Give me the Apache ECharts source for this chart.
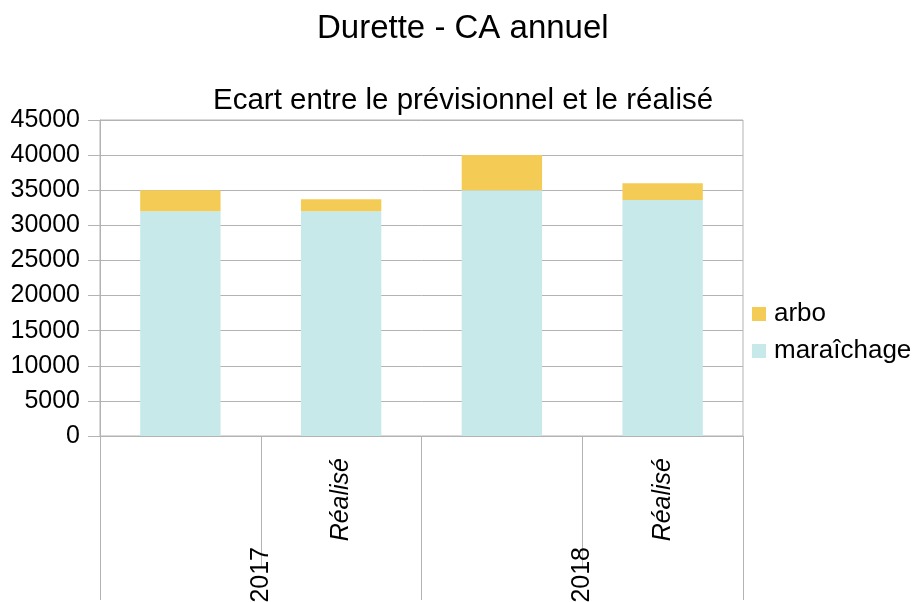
<!DOCTYPE html>
<html>
<head>
<meta charset="utf-8">
<script src="https://cdn.jsdelivr.net/npm/echarts@6/dist/echarts.min.js"></script>
<style>
html,body{margin:0;padding:0;background:#fff;}
#chart{width:912px;height:602px;}
</style>
</head>
<body>
<div id="chart"></div>
<script>
var categories = ['2017 prévisionnel', '2017 réalisé', '2018 prévisionnel', '2018 réalisé'];
var innerLabels = ['', 'Réalisé', '', 'Réalisé'];
var years = ['2017', '2018'];
var maraichage = [32000, 32000, 35000, 33600];
var arbo = [3000, 1700, 5000, 2400];

var FONT = '"Liberation Sans", Arial, sans-serif';
var GRID = '#b3b3b3';

var chart = echarts.init(document.getElementById('chart'), null, {renderer: 'canvas'});
chart.setOption({
  animation: false,
  backgroundColor: '#ffffff',
  textStyle: {fontFamily: FONT},
  title: [
    {text: 'Durette - CA annuel', left: 317, top: 12, padding: 0,
     textStyle: {fontFamily: FONT, fontSize: 33, fontWeight: 'normal', color: '#000'}},
    {text: 'Ecart entre le prévisionnel et le réalisé', left: 213, top: 86, padding: 0,
     textStyle: {fontFamily: FONT, fontSize: 29.5, fontWeight: 'normal', color: '#000'}}
  ],
  legend: {
    orient: 'vertical', left: 747, top: 296,
    data: ['arbo', 'maraîchage'],
    icon: 'rect', itemWidth: 14, itemHeight: 14, itemGap: 11,
    textStyle: {fontFamily: FONT, fontSize: 26, color: '#000', padding: [0, 0, 0, 3]}
  },
  grid: {left: 100, right: 169, top: 120, bottom: 166, containLabel: false,
         outerBoundsMode: 'none',
         show: true, borderColor: GRID, borderWidth: 1},
  xAxis: [
    {type: 'category', data: categories, gridIndex: 0, position: 'bottom',
     axisLine: {show: true, lineStyle: {color: GRID}},
     axisTick: {show: true, length: 132, interval: 0, lineStyle: {color: GRID}},
     axisLabel: {interval: 0, rotate: 90, margin: 22, fontSize: 25, fontStyle: 'italic', color: '#000',
                 fontFamily: FONT,
                 formatter: function (v, i) { return innerLabels[i]; }}},
    {type: 'category', data: years, gridIndex: 0, position: 'bottom',
     axisLine: {show: false},
     axisTick: {show: true, length: 164, interval: 0, lineStyle: {color: GRID}},
     axisLabel: {interval: 0, rotate: 90, margin: 111, fontSize: 25, color: '#000', fontFamily: FONT}}
  ],
  yAxis: {
    type: 'value', min: 0, max: 45000, interval: 5000,
    axisLine: {show: true, lineStyle: {color: GRID}},
    axisTick: {show: true, length: 12, lineStyle: {color: GRID}},
    splitLine: {show: true, lineStyle: {color: GRID}},
    axisLabel: {fontSize: 25, color: '#000', margin: 20, fontFamily: FONT,
                formatter: function (v) { return String(v); }}
  },
  series: [
    {name: 'maraîchage', type: 'bar', stack: 'ca', xAxisIndex: 0, data: maraichage,
     barWidth: '50%', itemStyle: {color: '#c7e9ea'}},
    {name: 'arbo', type: 'bar', stack: 'ca', xAxisIndex: 0, data: arbo,
     barWidth: '50%', itemStyle: {color: '#f4cc55'}}
  ]
});
</script>
</body>
</html>
